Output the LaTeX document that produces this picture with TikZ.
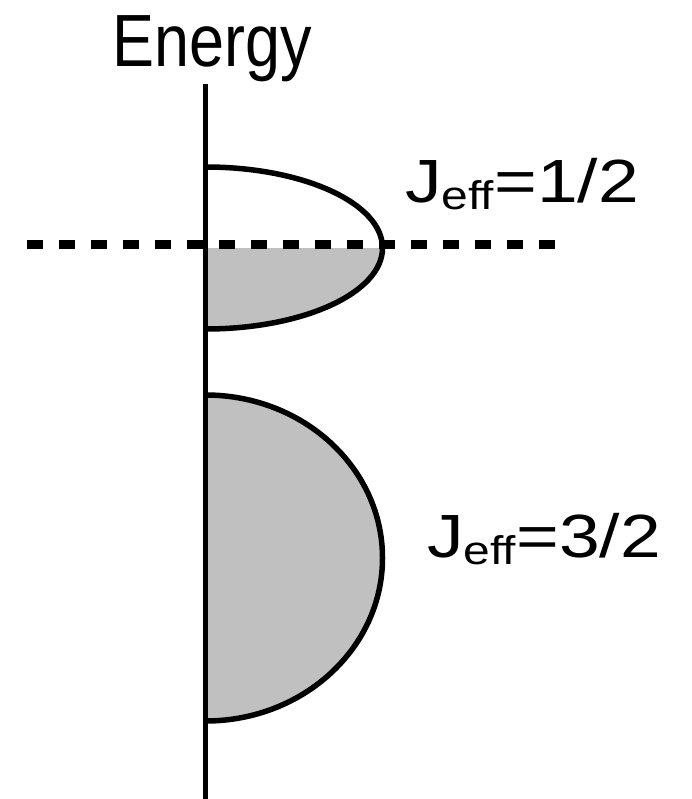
\documentclass[tikz,border=0pt]{standalone}
\usepackage{fontspec}
\setmainfont{Liberation Sans}
\definecolor{bandgray}{RGB}{192,192,192}
\tikzset{
  outline/.style={line width=5.5pt, draw=black},
  band/.style={fill=bandgray},
  fermi/.style={line width=8.5pt, dash pattern=on 16pt off 16pt},
  lbl/.style={inner sep=0pt, anchor=base west},
}
\newcommand{\jlabel}[1]{\scalebox{1.2}[1]{\fontsize{61}{61}\selectfont J\raisebox{-7pt}{\fontsize{40}{40}\selectfont eff}=#1}}
\begin{document}
\begin{tikzpicture}[x=1pt,y=-1pt]
\useasboundingbox (0,0) rectangle (692,799);
% upper band (J_eff = 1/2)
\begin{scope}
  \clip (205.5,248.5) rectangle (400,340);
  \fill[band] (205.5,248) ellipse [x radius=177, y radius=81];
\end{scope}
\begin{scope}
  \clip (205.5,150) rectangle (400,340);
  \draw[outline] (205.5,248) ellipse [x radius=177, y radius=81];
\end{scope}
% lower band (J_eff = 3/2)
\begin{scope}
  \clip (205.5,380) rectangle (400,740);
  \fill[band] (205.5,558) ellipse [x radius=177, y radius=163];
  \draw[outline] (205.5,558) ellipse [x radius=177, y radius=163];
\end{scope}
% energy axis
\coordinate (axtop) at (205.5,84);
\coordinate (axbot) at (205.5,799);
\draw[line width=5pt] (axtop) -- (axbot);
% Fermi level
\coordinate (fl) at (26.7,244.5);
\coordinate (fr) at (554.7,244.5);
\draw[fermi] (fl) -- (fr);
% labels
\node[inner sep=0pt, anchor=base] (energy) at (212,67) {\scalebox{0.85}[1]{\fontsize{74}{74}\selectfont Energy}};
\node[lbl] (j12) at (405,203) {\jlabel{1/2}};
\node[lbl] (j32) at (427,557) {\jlabel{3/2}};
\end{tikzpicture}
\end{document}
